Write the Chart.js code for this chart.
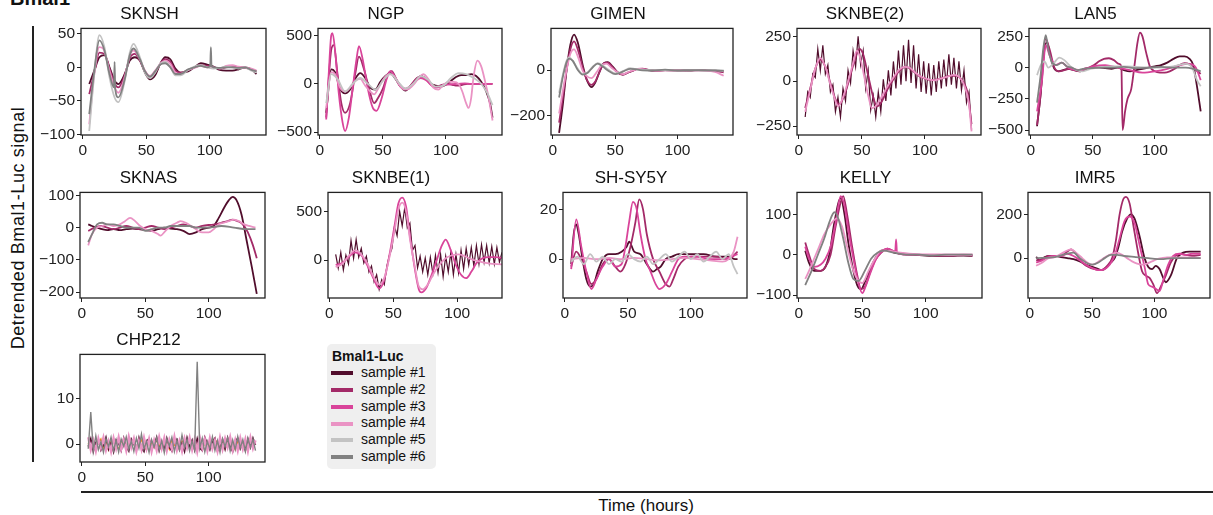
<!DOCTYPE html>
<html lang="en">
<head>
<meta charset="utf-8">
<title>Bmal1</title>
<script src="https://cdn.jsdelivr.net/npm/chart.js"></script>
<style>
  body { margin: 0; width: 1213px; height: 515px; position: relative; overflow: hidden; background: #fff;
         font-family: Arial, "Liberation Sans", sans-serif; color: #111; }
  canvas { position: absolute; }
  #supTitle { position: absolute; left: 10px; top: -12px; font-size: 20px; font-weight: bold; line-height: 20px; }
  #yLabel { position: absolute; left: 18px; top: 228px; font-size: 18px; letter-spacing: 0.6px; white-space: nowrap;
            transform: translate(-50%, -50%) rotate(-90deg); }
  #xLabel { position: absolute; left: 646px; top: 506px; font-size: 17px; transform: translate(-50%, -50%); white-space: nowrap; }
  .vline { position: absolute; left: 32px; top: 26px; width: 1.5px; height: 436px; background: #222; }
  .hline { position: absolute; left: 81px; top: 491px; width: 1132px; height: 1.5px; background: #222; }
  #legend { position: absolute; left: 327px; top: 344px; width: 109px; height: 125px; background: #efefef; border-radius: 5px; }
  #legend .head { position: absolute; left: 5px; top: 4px; font-size: 14px; font-weight: bold; }
  #legend .row { position: absolute; left: 4px; height: 16px; font-size: 14px; line-height: 16px; white-space: nowrap; }
  #legend .sw { display: inline-block; width: 22px; height: 4px; vertical-align: middle; margin-right: 8px; }
</style>
</head>
<body>
<div id="supTitle">Bmal1</div>
<div id="yLabel">Detrended Bmal1-Luc signal</div>
<div class="vline"></div>
<div class="hline"></div>
<div id="xLabel">Time (hours)</div>
<div id="legend"><div class="head">Bmal1-Luc</div></div>

<script>
const sampleLabels = ['sample #1', 'sample #2', 'sample #3', 'sample #4', 'sample #5', 'sample #6'];
const sampleColors = ['#510d2c', '#a32a68', '#d9449a', '#ea93c4', '#c3c3c3', '#818181', '#f08a24'];
const xTicks = [0, 50, 100];

// 2-hour grid for the noisy traces
const hours2 = [5,7,9,11,13,15,17,19,21,23,25,27,29,31,33,35,37,39,41,43,45,47,49,51,53,55,57,59,61,63,65,67,69,71,73,75,77,79,81,83,85,87,89,91,93,95,97,99,101,103,105,107,109,111,113,115,117,119,121,123,125,127,129,131,133,135,137];

// SKNSH
const sknshTicks = [-100, -50, 0, 50];
const sknshS1 = [[5,-25],[9,-5],[13,15],[17,18],[21,0],[25,-20],[28,-25],[33,-10],[37,10],[41,15],[45,10],[49,-8],[53,-18],[57,-12],[61,5],[65,15],[69,12],[73,-2],[77,-8],[83,-6],[88,0],[93,6],[98,4],[103,1],[108,-4],[113,-5],[118,-5],[123,-3],[128,0],[133,-3],[137,-10]];
const sknshS2 = [[5,-40],[9,-8],[13,22],[17,20],[21,-2],[25,-24],[28,-30],[33,-12],[37,14],[41,20],[45,10],[49,-6],[53,-15],[57,-8],[61,5],[65,12],[69,8],[73,-5],[77,-8],[83,-4],[88,0],[93,3],[98,2],[103,0],[108,-2],[113,0],[118,1],[123,0],[128,-1],[133,-3],[137,-6]];
const sknshS4 = [[5,-85],[9,-10],[13,30],[16,28],[21,-5],[25,-30],[28,-38],[33,-15],[37,18],[40,25],[45,12],[49,-5],[53,-13],[57,-5],[61,5],[65,10],[69,5],[73,-8],[77,-10],[83,-4],[88,-1],[93,2],[98,0],[103,0],[108,-2],[113,2],[118,3],[123,1],[128,0],[133,-2],[137,-5]];
const sknshS5 = [[5,-95],[9,-10],[13,48],[17,30],[21,-15],[25,-45],[28,-52],[33,-20],[37,22],[40,35],[45,15],[49,-8],[53,-16],[57,-8],[61,5],[65,8],[69,0],[73,-12],[77,-12],[83,-4],[88,1],[93,3],[98,0],[103,-2],[108,-1],[113,1],[118,0],[123,-2],[128,0],[133,-5],[137,-8]];
const sknshS6 = [[5,-70],[9,-5],[13,40],[17,25],[21,-10],[24.5,-30],[25,8],[25.5,-32],[28,-45],[33,-18],[37,18],[40,28],[45,12],[49,-6],[53,-14],[57,-6],[61,4],[65,6],[69,0],[73,-10],[77,-10],[83,-3],[88,0],[93,2],[98,0],[100.5,2],[101,30],[101.5,2],[103,0],[108,-1],[113,0],[118,0],[123,-1],[128,0],[133,-4],[137,-6]];

// NGP
const ngpTicks = [-500, 0, 500];
const ngpS1 = [[5,-300],[9,150],[12,120],[16,-50],[20,-100],[24,-60],[28,50],[32,110],[36,60],[40,-40],[44,-60],[48,20],[52,80],[56,110],[60,50],[64,-30],[68,-70],[72,-20],[76,40],[80,80],[84,50],[88,0],[92,-20],[96,-30],[100,-10],[104,30],[108,70],[112,90],[116,90],[120,100],[124,80],[128,20],[132,-80],[135,-200],[137,-350]];
const ngpS2 = [[5,-350],[9,350],[11,400],[14,100],[17,-200],[20,-300],[24,-200],[28,100],[31,280],[35,150],[39,-50],[43,-200],[46,-150],[50,-50],[54,100],[57,130],[61,40],[65,-40],[69,-60],[73,0],[77,60],[81,80],[85,40],[89,-20],[93,-30],[97,-10],[101,0],[105,-10],[109,-20],[113,-10],[117,0],[121,0],[125,0],[130,0],[137,0]];
const ngpS3 = [[5,-370],[7,100],[9,500],[10,525],[12,350],[15,-100],[18,-400],[20,-490],[23,-350],[26,-50],[29,250],[31,390],[34,250],[38,-50],[42,-250],[45,-280],[49,-150],[53,50],[56,130],[60,60],[64,-30],[68,-50],[72,-20],[76,30],[80,60],[84,40],[88,-10],[92,-40],[96,-30],[100,-10],[105,-5],[110,0],[115,5],[120,0],[125,0],[130,0],[137,0]];
const ngpS4 = [[5,-250],[9,120],[12,100],[16,-40],[20,-80],[24,-40],[28,30],[32,50],[36,-20],[40,-80],[43,-110],[47,-30],[51,60],[55,100],[59,80],[63,-10],[67,-60],[71,-50],[75,0],[79,70],[82,100],[86,50],[90,-40],[94,-60],[98,-10],[102,20],[106,20],[110,0],[113,-80],[116,-200],[118,-250],[120,-150],[122,80],[125,240],[128,180],[131,30],[134,-150],[137,-380]];
const ngpS5 = [[5,-200],[9,100],[14,50],[20,-80],[26,0],[32,60],[38,0],[44,-60],[50,30],[56,100],[62,20],[68,-50],[74,0],[80,80],[86,40],[92,-30],[98,-20],[104,60],[110,110],[116,100],[122,60],[128,0],[133,-100],[137,-220]];

// GIMEN
const gimenTicks = [-200, 0];
const gimenS1 = [[5,-275],[8,-150],[11,0],[14,110],[17,155],[20,120],[24,20],[27,-40],[31,-75],[34,-55],[38,0],[41,30],[44,35],[48,15],[52,-10],[56,-20],[60,-12],[64,-3],[68,5],[72,5],[76,0],[82,-3],[90,0],[100,-3],[110,-2],[120,0],[130,-3],[137,-5]];
const gimenS2 = [[5,-230],[8,-120],[11,0],[14,90],[17,125],[20,90],[24,10],[27,-40],[31,-65],[34,-50],[38,0],[41,30],[44,32],[48,12],[52,-12],[56,-20],[60,-12],[64,-3],[68,5],[72,6],[76,2],[82,-3],[90,-1],[100,-2],[110,0],[120,-1],[130,-5],[137,-10]];
const gimenS4 = [[5,-190],[8,-90],[11,0],[14,70],[17,90],[20,60],[24,-5],[28,-30],[31,-35],[35,-10],[39,20],[43,28],[47,10],[52,-10],[56,-18],[60,-10],[65,0],[70,5],[75,2],[82,-2],[90,0],[100,-2],[110,0],[120,-2],[130,-8],[137,-25]];
const gimenS5 = [[5,-100],[8,-20],[11,40],[13,55],[16,40],[20,5],[24,-18],[28,-10],[32,15],[36,30],[40,20],[45,0],[50,-15],[54,-10],[58,0],[62,8],[66,5],[70,2],[80,0],[90,0],[100,-3],[110,0],[120,-2],[130,0],[137,-5]];
const gimenS6 = [[5,-120],[8,-30],[11,35],[13,50],[16,40],[20,0],[24,-20],[28,-12],[32,12],[36,28],[40,15],[45,-5],[50,-18],[54,-12],[58,-2],[62,5],[66,4],[70,0],[80,-2],[90,2],[100,-2],[110,0],[120,-1],[130,-2],[137,-3]];

// SKNBE(2)
const sknbe2Ticks = [-250, 0, 250];
const sknbe2S1Vals = [-200,-60,-90,40,20,180,60,200,40,90,-60,-20,-170,-90,-200,-40,-110,60,-10,170,80,250,90,170,-40,60,-160,-80,-200,-60,-170,10,-110,60,-80,110,-40,170,-20,200,0,230,-10,200,-40,150,-60,110,-70,100,-80,90,-60,110,-40,120,-30,150,-20,130,-40,110,-50,60,-120,-60,-270];
const sknbe2S2 = [[5,-150],[9,-40],[13,70],[17,120],[21,80],[25,-10],[29,-100],[32,-130],[36,-80],[40,10],[44,110],[48,180],[51,150],[55,30],[59,-90],[62,-140],[66,-110],[70,-50],[75,10],[80,60],[85,80],[90,60],[95,30],[100,15],[105,5],[110,10],[115,20],[120,30],[125,30],[130,0],[134,-70],[137,-240]];
const sknbe2S4 = [[5,-170],[9,-50],[13,70],[17,130],[21,80],[25,-20],[29,-110],[31,-140],[35,-90],[39,0],[43,100],[46,170],[49,120],[52,20],[55,-80],[58,-150],[62,-130],[67,-70],[71,-20],[75,20],[79,60],[84,80],[88,75],[92,50],[97,25],[103,10],[108,5],[113,15],[118,25],[123,35],[127,25],[131,-20],[135,-130],[137,-280]];

// LAN5
const lan5Ticks = [-500, -250, 0, 250];
const lan5S1 = [[5,-470],[8,-200],[11,150],[13,200],[16,80],[19,-10],[22,-30],[26,-20],[30,-10],[35,-20],[40,-30],[45,-10],[50,0],[55,0],[60,-5],[65,-10],[70,0],[75,-20],[80,-30],[85,-20],[90,-10],[95,0],[100,10],[105,20],[110,40],[115,70],[120,90],[124,90],[128,70],[131,20],[134,-150],[137,-350]];
const lan5S2 = [[5,-460],[8,-200],[10,100],[12,230],[15,150],[19,0],[23,-30],[27,-20],[31,-10],[35,-20],[39,-30],[43,-10],[47,0],[51,20],[55,50],[59,70],[63,75],[67,60],[71,30],[73,10],[74,-500],[76,-350],[78,-250],[81,-170],[84,50],[86,200],[88,280],[90,250],[93,120],[96,10],[100,-30],[104,-40],[108,-40],[112,-30],[116,-10],[120,20],[124,35],[128,25],[132,-10],[137,-50]];
const lan5S3 = [[5,-350],[9,-100],[12,180],[15,100],[20,20],[25,40],[30,0],[40,-20],[50,10],[60,20],[70,0],[80,-20],[90,-40],[100,-30],[110,-10],[120,20],[128,30],[133,0],[137,-100]];
const lan5S5 = [[5,-60],[8,20],[11,50],[14,0],[18,30],[23,80],[27,60],[32,10],[37,-20],[42,-30],[48,-10],[55,0],[65,10],[75,10],[85,5],[95,0],[105,0],[115,10],[125,30],[130,0],[134,-100],[137,-150]];
const lan5S6 = [[5,-280],[8,-50],[10,150],[12,260],[14,150],[17,40],[21,20],[25,40],[29,10],[33,0],[38,-20],[42,-10],[48,-5],[55,0],[65,0],[75,5],[85,-5],[95,0],[105,5],[115,0],[125,0],[131,-10],[137,-30]];

// SKNAS
const sknasTicks = [-200, -100, 0, 100];
const sknasS1 = [[5,10],[8,5],[12,0],[16,-5],[20,-8],[25,-5],[30,-8],[35,-5],[40,-3],[45,-5],[50,-8],[55,-10],[60,-5],[65,0],[70,-3],[75,-5],[80,-10],[85,-20],[90,-15],[95,-5],[100,0],[104,5],[108,30],[112,60],[116,85],[119,95],[122,85],[126,40],[130,-40],[134,-120],[138,-205]];
const sknasS2 = [[5,-10],[10,0],[15,5],[20,0],[25,-5],[30,0],[35,5],[40,0],[45,-5],[50,0],[55,5],[60,0],[65,-5],[70,0],[75,5],[80,10],[85,5],[90,0],[95,5],[100,8],[105,10],[110,15],[115,20],[119,25],[123,20],[127,10],[131,-15],[135,-55],[138,-95]];
const sknasS4 = [[5,-55],[8,-20],[12,0],[16,5],[20,10],[25,5],[30,10],[34,20],[38,30],[42,20],[46,5],[50,-5],[55,-10],[60,-20],[62,-25],[66,-10],[70,5],[75,15],[78,20],[82,15],[86,5],[90,-5],[95,-15],[100,-15],[104,-5],[108,10],[112,15],[116,20],[120,25],[124,20],[128,10],[132,5],[137,0]];
const sknasS6 = [[5,-45],[8,-20],[12,10],[16,15],[20,10],[25,10],[30,5],[35,0],[40,0],[45,0],[50,-10],[55,-5],[60,0],[65,0],[70,5],[75,5],[80,5],[85,5],[90,0],[100,0],[110,5],[120,0],[130,-5],[137,-5]];

// SKNBE(1)
const sknbe1Ticks = [0, 500];
const sknbe1S1Vals = [60,-80,80,-100,50,-40,200,20,210,30,120,-30,40,-120,-60,-220,-150,-300,-200,-250,-60,50,120,350,250,500,350,540,330,380,100,150,-80,40,-120,20,-150,30,-140,50,-130,60,-170,40,-120,80,-150,60,-130,100,-90,120,-50,130,-60,150,-40,160,-20,150,-30,140,-40,130,-20,80,-10];
const sknbe1S3 = [[5,-50],[10,-30],[15,30],[20,80],[25,50],[30,-60],[35,-200],[39,-290],[43,-200],[47,50],[51,350],[54,580],[57,640],[60,550],[63,250],[67,-100],[70,-300],[72,-330],[76,-280],[80,-150],[84,0],[88,150],[91,210],[95,100],[99,-50],[103,-150],[107,-185],[111,-120],[115,-30],[120,20],[125,30],[130,30],[137,20]];
const sknbe1S4 = [[5,-70],[10,-40],[15,40],[20,100],[25,60],[30,-40],[35,-180],[39,-250],[43,-180],[47,30],[51,300],[54,520],[57,590],[60,500],[63,220],[67,-80],[70,-270],[73,-300],[77,-250],[81,-150],[86,-50],[91,20],[96,50],[101,60],[106,40],[111,10],[116,-10],[121,-25],[126,-35],[131,-40],[137,-45]];

// SH-SY5Y
const shsy5yTicks = [0, 20];
const shsy5yS1 = [[5,-2],[7,10],[9,14],[11,10],[14,0],[17,-8],[20,-11],[23,-10],[26,-5],[30,0],[35,2],[40,2],[45,3],[49,5],[51,7],[55,3],[60,2],[65,-2],[70,-5],[73,-4],[76,-3],[80,0],[85,1],[90,2],[95,2],[100,2],[110,2],[120,1],[130,1],[135,0],[137,0]];
const shsy5yS2 = [[5,-3],[9,3],[13,0],[17,-5],[21,-10],[25,-8],[30,-2],[35,0],[40,-3],[44,-5],[48,-2],[52,5],[56,15],[59,24],[62,20],[65,10],[70,0],[75,-5],[80,-10],[83,-11],[86,-8],[90,-3],[95,0],[100,1],[110,1],[120,1],[130,0],[137,3]];
const shsy5yS3 = [[5,-4],[9,16],[13,5],[17,-5],[21,-12],[25,-8],[30,-3],[35,0],[40,-3],[45,-2],[48,5],[51,15],[54,23],[57,20],[60,10],[64,0],[68,-5],[72,-10],[75,-12],[80,-10],[85,-5],[90,0],[95,1],[105,1],[115,0],[125,0],[137,2]];
const shsy5yS4 = [[5,0],[15,0.5],[25,0],[35,0.5],[45,0],[55,0.5],[65,0],[75,-0.5],[85,0],[95,0.5],[105,0],[115,-0.5],[125,-1],[130,0],[134,3],[137,9]];
const shsy5yS5 = [[5,-1],[10,1],[15,-2],[20,2],[25,-1],[30,1],[35,-2],[40,0],[45,-1],[50,2],[55,0],[60,-1],[65,1],[70,-2],[75,0],[80,2],[85,-1],[90,1],[95,3],[100,0],[105,2],[110,-1],[115,1],[120,3],[125,0],[130,2],[134,-3],[137,-6]];

// KELLY
const kellyTicks = [-100, 0, 100];
const kellyS1 = [[5,10],[8,-20],[12,-40],[17,-40],[20,-35],[24,0],[28,80],[33,140],[36,100],[39,30],[43,-40],[46,-75],[49,-85],[53,-60],[57,-30],[61,-5],[65,10],[70,12],[75,5],[80,3],[90,0],[100,-2],[110,-3],[120,-3],[130,-2],[137,-3]];
const kellyS2 = [[5,30],[8,0],[12,-35],[17,-40],[21,-30],[25,0],[29,70],[33,130],[35,145],[38,100],[42,20],[46,-50],[49,-85],[52,-80],[56,-45],[60,-15],[65,5],[70,15],[75,8],[80,2],[90,0],[100,-1],[110,-2],[120,-2],[130,-1],[137,-2]];
const kellyS3 = [[5,20],[8,-10],[12,-30],[17,-25],[21,-10],[25,20],[29,80],[33,145],[36,120],[39,60],[43,-10],[47,-70],[50,-95],[53,-75],[57,-40],[61,-10],[66,10],[70,15],[76,8],[76.7,38],[77.4,5],[85,0],[95,0],[105,0],[115,0],[125,0],[137,0]];
const kellyS4 = [[5,-60],[8,-40],[12,-10],[16,20],[20,50],[25,75],[30,90],[34,70],[38,20],[42,-30],[46,-60],[50,-70],[55,-40],[60,-10],[65,10],[70,10],[80,5],[90,2],[100,0],[110,0],[120,-1],[130,0],[137,-1]];
const kellyS6 = [[5,-75],[10,-40],[15,0],[20,40],[24,80],[28,105],[31,90],[35,40],[39,-20],[43,-60],[47,-65],[52,-40],[57,-10],[62,5],[67,10],[75,5],[85,0],[95,0],[105,-2],[115,0],[125,0],[137,0]];

// IMR5
const imr5Ticks = [0, 200];
const imr5S1 = [[5,5],[8,-10],[12,5],[16,10],[20,10],[25,5],[30,0],[35,-5],[40,-15],[45,-30],[50,-40],[55,-50],[58,-55],[62,-40],[65,-20],[68,0],[71,50],[74,120],[78,180],[81,200],[84,180],[88,100],[92,0],[95,-40],[98,-50],[101,-35],[104,-50],[107,-90],[109,-110],[113,-80],[118,0],[123,25],[128,30],[133,30],[137,30]];
const imr5S2 = [[5,-10],[10,-5],[15,10],[20,10],[25,10],[30,30],[33,40],[37,20],[42,-20],[47,-40],[52,-50],[57,-55],[62,-35],[66,0],[69,80],[72,200],[75,270],[77,280],[80,250],[83,150],[87,20],[90,-60],[93,-80],[96,-90],[99,-120],[102,-160],[105,-130],[109,-80],[113,-20],[117,10],[121,20],[125,15],[130,10],[137,15]];
const imr5S3 = [[5,-20],[10,-10],[15,5],[20,10],[25,10],[30,20],[35,10],[40,-10],[45,-30],[50,-45],[55,-55],[60,-50],[64,-30],[68,10],[72,90],[76,170],[80,190],[84,160],[88,60],[92,-40],[95,-120],[98,-130],[101,-140],[104,-150],[107,-100],[111,-30],[115,10],[120,20],[125,15],[130,20],[137,20]];
const imr5S4 = [[5,-35],[10,-20],[15,0],[20,5],[25,20],[30,35],[33,40],[37,25],[42,0],[46,-20],[50,-30],[54,-20],[58,-5],[62,10],[66,20],[70,25],[74,15],[78,0],[82,-15],[86,-25],[90,-30],[94,-25],[98,-15],[102,-5],[106,0],[110,3],[120,3],[130,2],[137,0]];
const imr5S6 = [[5,0],[20,5],[30,20],[35,25],[40,0],[50,-30],[55,-20],[60,0],[65,15],[70,15],[75,10],[85,5],[95,0],[105,-5],[115,0],[130,0],[137,0]];

// CHP212
const chp212Ticks = [0, 10];
const chp212S1Vals = [-0.5,1.2,-1.6,0.4,1.0,-1.3,-0.2,1.5,-1.1,0.3,-1.7,0.9,0.2,-1.4,1.3,-0.6,-1.5,1.1,0.0,-1.2,1.4,-0.8,-1.6,0.7,1.2,-1.0,-0.3,1.5,-1.4,0.5,-1.1,1.3,-0.7,-1.5,0.8,1.1,-1.2,0.2,-1.6,1.4,-0.5,0.9,-1.3,1.2,-0.9,-1.4,1.5,0.1,-1.2,0.6,1.3,-1.5,-0.4,1.0,-1.1,1.4,-0.6,-1.6,0.8,1.2,-1.0,0.3,-1.4,1.1,-0.7,1.3,-0.2];
const chp212S4Vals = [1.5,-1.2,0.8,-1.5,1.2,-0.8,1.4,-1.3,0.6,-1.6,1.3,-0.9,1.5,-1.1,0.9,-1.4,1.6,-0.7,1.2,-1.5,0.7,-1.2,1.4,-1.0,1.1,-1.6,0.8,-1.3,1.5,-0.9,1.3,-1.4,0.9,-1.1,1.6,-1.3,0.7,-1.5,1.2,-0.8,1.4,-1.2,1.0,-1.6,1.5,-0.9,1.1,-1.4,1.3,-1.0,0.8,-1.5,1.4,-1.1,1.2,-0.7,1.5,-1.3,0.9,-1.4,1.3,-1.0,1.1,-1.5,1.4,-0.9,0.8];
const chp212S6Vals = [-1.0,7.0,-1.5,1.8,-1.2,0.5,-1.8,1.2,-0.6,1.5,-1.4,0.9,-1.7,1.1,-0.5,1.6,-1.2,0.7,-1.6,1.3,-0.9,2.2,-1.1,0.6,-1.8,1.0,-0.7,1.4,-1.3,0.8,-1.9,1.2,-0.4,1.5,-1.6,0.9,-1.2,2.0,-0.8,1.1,-1.5,0.7,-1.3,18.0,-0.9,1.3,-1.7,0.6,-1.1,1.6,-1.4,0.8,-1.8,1.2,-0.6,1.4,-1.5,0.9,-1.2,1.7,-0.8,1.0,-1.6,1.3,-0.7,1.1,-1.4];
const chp212OrangeVals = [0.3,-1.0,0.8,-0.5,0.2,1.1,-0.9,0.4,-1.2,0.6,0.9,-0.3,-1.1,0.7,0.1,-0.8,1.0,-0.4,0.5,-1.0,0.3,0.9,-0.6,-1.2,0.8,0.2,-0.7,1.1,-0.2,-0.9,0.6,0.4,-1.1,0.9,-0.3,0.1,-1.0,0.7,0.5,-0.6,1.0,-0.8,0.2,-0.4,0.9,-1.1,0.3,0.6,-0.5,-0.9,1.1,0.0,-0.7,0.8,-1.0,0.4,0.7,-0.3,-1.2,0.5,0.9,-0.6,0.2,-0.9,1.0,-0.1,0.6];

function pairs(xs, ys) { return xs.map((x, i) => [x, ys[i]]); }

const panels = [
  { title: 'SKNSH', box: [81, 28, 185, 107], y: [-101, 58], ticks: sknshTicks,
    series: [[0, sknshS1], [1, sknshS2], [3, sknshS4], [4, sknshS5], [5, sknshS6]] },
  { title: 'NGP', box: [318, 28, 184, 107], y: [-530, 573], ticks: ngpTicks,
    series: [[0, ngpS1], [1, ngpS2], [2, ngpS3], [3, ngpS4], [4, ngpS5]] },
  { title: 'GIMEN', box: [551, 28, 182, 107], y: [-284, 182], ticks: gimenTicks,
    series: [[0, gimenS1], [1, gimenS2], [3, gimenS4], [4, gimenS5], [5, gimenS6]] },
  { title: 'SKNBE(2)', box: [797, 28, 184, 107], y: [-300, 294], ticks: sknbe2Ticks,
    series: [[0, pairs(hours2, sknbe2S1Vals), 1.2], [1, sknbe2S2], [3, sknbe2S4]] },
  { title: 'LAN5', box: [1029, 28, 181, 107], y: [-540, 314], ticks: lan5Ticks,
    series: [[0, lan5S1], [1, lan5S2], [2, lan5S3], [4, lan5S5], [5, lan5S6]] },
  { title: 'SKNAS', box: [80, 192, 185, 106], y: [-218, 109], ticks: sknasTicks,
    series: [[0, sknasS1], [1, sknasS2], [3, sknasS4], [5, sknasS6]] },
  { title: 'SKNBE(1)', box: [328, 192, 174, 106], y: [-388, 694], ticks: sknbe1Ticks, x: [-1, 135],
    series: [[0, pairs(hours2, sknbe1S1Vals), 1.2], [2, sknbe1S3], [3, sknbe1S4]] },
  { title: 'SH-SY5Y', box: [563, 192, 184, 106], y: [-15.6, 26.8], ticks: shsy5yTicks,
    series: [[0, shsy5yS1], [1, shsy5yS2], [2, shsy5yS3], [3, shsy5yS4], [4, shsy5yS5]] },
  { title: 'KELLY', box: [797, 192, 185, 106], y: [-107, 154], ticks: kellyTicks,
    series: [[0, kellyS1], [1, kellyS2], [2, kellyS3], [3, kellyS4], [5, kellyS6]] },
  { title: 'IMR5', box: [1028, 192, 182, 106], y: [-182, 300], ticks: imr5Ticks,
    series: [[0, imr5S1], [1, imr5S2], [2, imr5S3], [3, imr5S4], [5, imr5S6]] },
  { title: 'CHP212', box: [80, 354, 185, 108], y: [-3.9, 19.6], ticks: chp212Ticks,
    series: [[6, pairs(hours2, chp212OrangeVals), 1.4], [0, pairs(hours2, chp212S1Vals), 1.6],
             [3, pairs(hours2, chp212S4Vals), 2.4], [5, pairs(hours2, chp212S6Vals), 1.4]] }
];

const FONT = 'Arial, "Liberation Sans", sans-serif';
const fmt = v => (v < 0 ? '\u2212' + Math.abs(v) : String(v));

// draw full box around the plot area
const frame = {
  id: 'frame',
  afterDraw(chart) {
    const a = chart.chartArea, g = chart.ctx;
    g.save();
    g.strokeStyle = '#222';
    g.lineWidth = 1.3;
    g.strokeRect(a.left, a.top, a.right - a.left, a.bottom - a.top);
    g.restore();
  }
};

panels.forEach(p => {
  const [l, t, w, h] = p.box;
  const cv = document.createElement('canvas');
  cv.width = w + 56;
  cv.height = h + 51;
  cv.style.left = (l - 48) + 'px';
  cv.style.top = (t - 26) + 'px';
  document.body.appendChild(cv);

  const axisStyle = {
    grid: { drawOnChartArea: false, drawTicks: true, tickLength: 4, color: '#222', lineWidth: 1 },
    border: { display: false },
    ticks: { font: { size: 15.5, family: FONT }, color: '#222', padding: 2, autoSkip: false, maxRotation: 0, callback: v => fmt(v) }
  };

  new Chart(cv, {
    type: 'line',
    data: {
      datasets: p.series.map(([k, pts, noisyWidth]) => ({
        data: pts,
        borderColor: sampleColors[k],
        borderWidth: noisyWidth || 1.8,
        pointRadius: 0,
        fill: false,
        cubicInterpolationMode: noisyWidth ? 'default' : 'monotone',
        tension: 0,
        order: k === 6 ? 20 : 10 - k
      }))
    },
    options: {
      responsive: false,
      animation: false,
      devicePixelRatio: 1,
      events: [],
      layout: { padding: { top: 2, right: 8, left: 0, bottom: 0 } },
      plugins: {
        legend: { display: false },
        tooltip: { enabled: false },
        title: { display: true, text: p.title, color: '#111', font: { size: 17, family: FONT, weight: 'normal' },
                 padding: { top: 0, bottom: 4 } }
      },
      scales: {
        x: Object.assign({}, axisStyle, {
          type: 'linear',
          min: p.x ? p.x[0] : -1.5,
          max: p.x ? p.x[1] : 144.5,
          afterBuildTicks: s => { s.ticks = xTicks.map(v => ({ value: v })); },
          afterFit: s => { s.height = 25; }
        }),
        y: Object.assign({}, axisStyle, {
          type: 'linear',
          min: p.y[0],
          max: p.y[1],
          afterBuildTicks: s => { s.ticks = p.ticks.map(v => ({ value: v })); },
          afterFit: s => { s.width = 48; }
        })
      }
    },
    plugins: [frame]
  });
});

// legend
const legend = document.getElementById('legend');
sampleLabels.forEach((lab, i) => {
  const row = document.createElement('div');
  row.className = 'row';
  row.style.top = (20 + i * 16.8) + 'px';
  row.innerHTML = '<span class="sw" style="background:' + sampleColors[i] + '"></span>' + lab;
  legend.appendChild(row);
});
</script>
</body>
</html>
